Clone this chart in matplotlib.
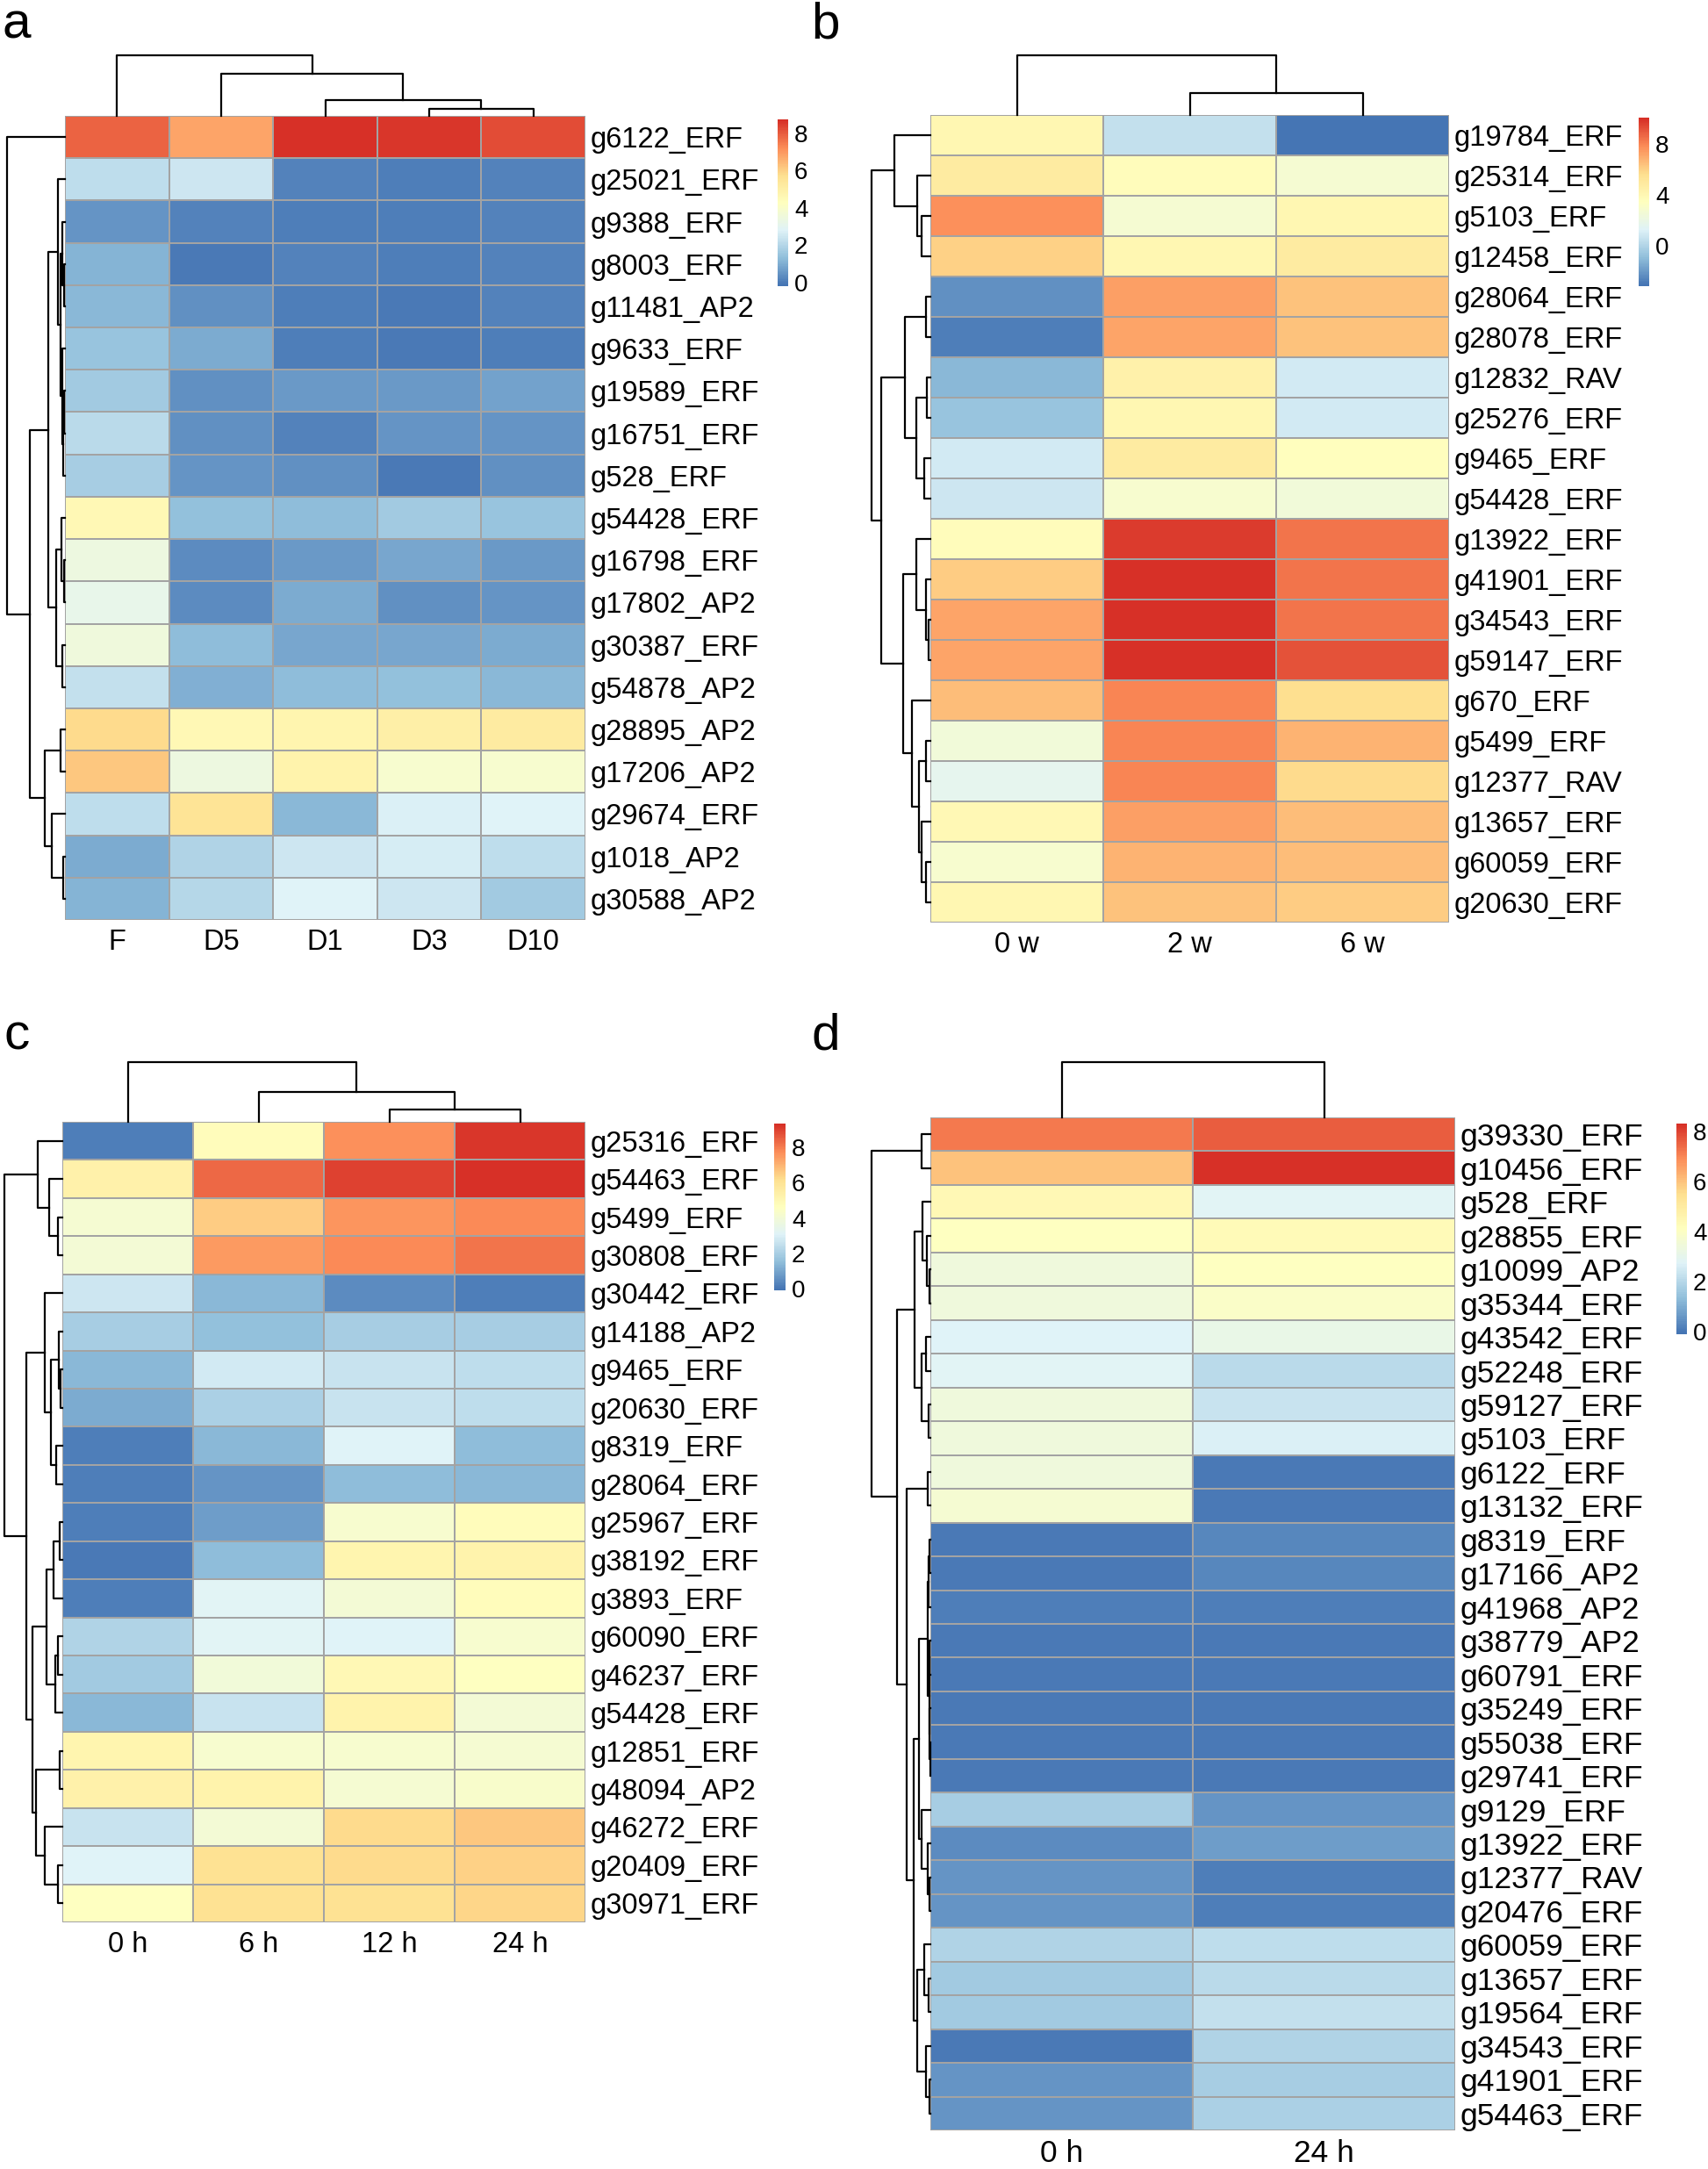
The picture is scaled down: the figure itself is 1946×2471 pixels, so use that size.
import numpy as np
import matplotlib
matplotlib.use('Agg')
import matplotlib.pyplot as plt
from matplotlib.colors import LinearSegmentedColormap

plt.rcParams['font.family'] = ['Liberation Sans', 'DejaVu Sans']

# ---------------- data ----------------
palette = ["#4575B4", "#91BFDB", "#E0F3F8", "#FFFFBF", "#FEE090", "#FC8D59", "#D73027"]

a_genes = ["g6122_ERF", "g25021_ERF", "g9388_ERF", "g8003_ERF", "g11481_AP2", "g9633_ERF",
           "g19589_ERF", "g16751_ERF", "g528_ERF", "g54428_ERF", "g16798_ERF", "g17802_AP2",
           "g30387_ERF", "g54878_AP2", "g28895_AP2", "g17206_AP2", "g29674_ERF", "g1018_AP2",
           "g30588_AP2"]
a_cols = ["F", "D5", "D1", "D3", "D10"]
a_values = [
    [7.9, 6.8, 8.7, 8.6, 8.3],
    [2.2, 2.4, 0.1, 0.0, 0.1],
    [0.5, 0.1, 0.0, 0.0, 0.1],
    [1.1, -0.1, 0.1, 0.0, 0.1],
    [1.2, 0.4, 0.0, -0.1, 0.1],
    [1.5, 0.9, 0.0, -0.1, 0.0],
    [1.6, 0.4, 0.6, 0.6, 0.7],
    [2.1, 0.4, 0.1, 0.5, 0.5],
    [1.7, 0.5, 0.4, -0.1, 0.4],
    [4.6, 1.4, 1.3, 1.6, 1.5],
    [3.4, 0.3, 0.6, 0.8, 0.6],
    [3.2, 0.3, 0.9, 0.4, 0.5],
    [3.5, 1.3, 0.8, 0.8, 0.9],
    [2.3, 1.0, 1.3, 1.4, 1.2],
    [5.8, 4.6, 4.8, 5.0, 5.2],
    [6.2, 3.4, 4.9, 3.9, 3.9],
    [2.2, 5.6, 1.2, 2.7, 2.8],
    [0.9, 1.9, 2.4, 2.6, 2.2],
    [1.1, 2.0, 2.8, 2.4, 1.6],
]
a_range = (-0.2, 8.75)
a_ticks = [0, 2, 4, 6, 8]
# trees: (height, left, right); leaves are display indices
a_row_tree = (1.0, 0,
              (0.6,
               (0.285,
                (0.125, 1, (0.075, (0.04, 2, (0.02, 3, 4)),
                            (0.045, 5, (0.035, (0.02, 6, 7), 8)))),
                (0.15, (0.06, 9, (0.02, 10, 11)), (0.05, 12, 13))),
               (0.35, (0.075, 14, 15), (0.225, 16, (0.025, 17, 18)))))
a_col_tree = (1.0, 0, (0.70, 1, (0.26, 2, (0.11, 3, 4))))

b_genes = ["g19784_ERF", "g25314_ERF", "g5103_ERF", "g12458_ERF", "g28064_ERF", "g28078_ERF",
           "g12832_RAV", "g25276_ERF", "g9465_ERF", "g54428_ERF", "g13922_ERF", "g41901_ERF",
           "g34543_ERF", "g59147_ERF", "g670_ERF", "g5499_ERF", "g12377_RAV", "g13657_ERF",
           "g60059_ERF", "g20630_ERF"]
b_cols = ["0 w", "2 w", "6 w"]
b_values = [
    [4.1, 0.4, -3.2],
    [4.8, 3.7, 2.7],
    [7.8, 2.7, 4.1],
    [6.1, 4.0, 4.8],
    [-2.4, 7.4, 6.4],
    [-2.9, 7.3, 6.4],
    [-1.1, 4.4, 0.8],
    [-0.8, 4.1, 0.9],
    [0.9, 4.9, 3.5],
    [0.7, 2.8, 2.4],
    [3.6, 9.8, 8.5],
    [6.2, 10.0, 8.4],
    [7.2, 10.1, 8.4],
    [7.2, 10.1, 9.2],
    [6.6, 8.0, 5.6],
    [2.4, 8.1, 6.9],
    [1.6, 8.1, 5.8],
    [3.9, 7.4, 6.6],
    [2.9, 6.9, 6.6],
    [4.1, 6.5, 6.2],
]
b_range = (-3.2, 10.1)
b_ticks = [0, 4, 8]
b_row_tree = (1.0,
              (0.61, 0, (0.22, 1, (0.15, 2, 3))),
              (0.83,
               (0.44, (0.07, 4, 5), (0.24, (0.06, 6, 7), (0.1, 8, 9))),
               (0.46,
                (0.24, 10, (0.07, 11, (0.03, 12, 13))),
                (0.32, 14, (0.2, (0.07, 15, 16), (0.15, 17, (0.07, 18, 19)))))))
b_col_tree = (1.0, 0, (0.37, 1, 2))

c_genes = ["g25316_ERF", "g54463_ERF", "g5499_ERF", "g30808_ERF", "g30442_ERF", "g14188_AP2",
           "g9465_ERF", "g20630_ERF", "g8319_ERF", "g28064_ERF", "g25967_ERF", "g38192_ERF",
           "g3893_ERF", "g60090_ERF", "g46237_ERF", "g54428_ERF", "g12851_ERF", "g48094_AP2",
           "g46272_ERF", "g20409_ERF", "g30971_ERF"]
c_cols = ["0 h", "6 h", "12 h", "24 h"]
c_values = [
    [0.1, 4.8, 7.7, 9.2],
    [5.3, 8.4, 9.0, 9.35],
    [4.1, 6.6, 7.6, 7.8],
    [4.0, 7.5, 7.8, 8.2],
    [2.7, 1.4, 0.4, 0.1],
    [1.9, 1.6, 1.9, 1.9],
    [1.4, 2.8, 2.6, 2.4],
    [1.1, 2.0, 2.6, 2.4],
    [0.1, 1.4, 3.1, 1.5],
    [0.1, 0.6, 1.5, 1.4],
    [0.1, 0.8, 4.2, 4.8],
    [0.0, 1.5, 5.1, 5.2],
    [0.1, 3.2, 4.0, 4.8],
    [2.1, 3.2, 3.1, 4.2],
    [1.8, 3.9, 5.0, 4.6],
    [1.4, 2.6, 5.2, 4.0],
    [5.1, 4.2, 4.2, 4.1],
    [5.3, 5.2, 4.1, 4.3],
    [2.6, 4.0, 6.3, 6.7],
    [3.1, 6.1, 6.3, 6.5],
    [4.6, 6.1, 6.1, 6.4],
]
c_range = (-0.1, 9.35)
c_ticks = [0, 2, 4, 6, 8]
c_row_tree = (1.0,
              (0.43, 0, (0.22, 1, (0.07, 2, 3))),
              (0.62,
               (0.3, 4, (0.2, (0.06, 5, (0.03, 6, 7)), (0.1, 8, 9))),
               (0.52,
                (0.27, (0.15, (0.05, 10, 11), 12), (0.125, (0.075, 13, 14), 15)),
                (0.46, (0.05, 16, 17), (0.3, 18, (0.07, 19, 20))))))
c_col_tree = (1.0, 0, (0.5, 1, (0.21, 2, 3)))

d_genes = ["g39330_ERF", "g10456_ERF", "g528_ERF", "g28855_ERF", "g10099_AP2", "g35344_ERF",
           "g43542_ERF", "g52248_ERF", "g59127_ERF", "g5103_ERF", "g6122_ERF", "g13132_ERF",
           "g8319_ERF", "g17166_AP2", "g41968_AP2", "g38779_AP2", "g60791_ERF", "g35249_ERF",
           "g55038_ERF", "g29741_ERF", "g9129_ERF", "g13922_ERF", "g12377_RAV", "g20476_ERF",
           "g60059_ERF", "g13657_ERF", "g19564_ERF", "g34543_ERF", "g41901_ERF", "g54463_ERF"]
d_cols = ["0 h", "24 h"]
d_values = [
    [7.2, 7.6], [6.0, 8.3], [4.4, 2.8], [4.1, 4.3], [3.4, 4.1], [3.4, 3.9],
    [2.7, 3.1], [2.8, 2.0], [3.4, 2.3], [3.4, 2.6], [3.4, 0.0], [3.6, 0.0],
    [0.0, 0.3], [0.0, 0.3], [0.1, 0.15], [0.0, 0.0], [0.0, 0.0], [0.0, 0.05],
    [0.0, 0.0], [0.0, 0.0], [1.7, 0.5], [0.4, 0.7], [0.5, 0.1], [0.5, 0.1],
    [1.9, 2.1], [1.6, 2.0], [1.6, 2.2], [0.0, 1.9], [0.5, 1.7], [0.5, 1.8],
]
d_range = (-0.1, 8.3)
d_ticks = [0, 2, 4, 6, 8]
d_row_tree = (1.0,
              (0.15, 0, 1),
              (0.56,
               (0.27, (0.13, 2, (0.06, 3, (0.02, 4, 5))), (0.15, (0.07, 6, 7), (0.03, 8, 9))),
               (0.41, (0.04, 10, 11),
                (0.29,
                 (0.2,
                  (0.05, (0.03, (0.02, 12, 13), 14), (0.02, (0.01, 15, 16), (0.01, 17, (0.005, 18, 19)))),
                  (0.15, 20, (0.04, 21, (0.01, 22, 23)))),
                 (0.22, (0.1, 24, (0.03, 25, 26)), (0.07, 27, (0.02, 28, 29)))))))
d_col_tree = (1.0, 0, 1)

# ---------------- drawing ----------------
W, H = 1946, 2471
fig = plt.figure(figsize=(W / 100, H / 100), dpi=100)
cmap = LinearSegmentedColormap.from_list('pheatmap', palette, N=100)
LINE_W = 1.6
GRID = '#A3A3A3'


def px_axes(x0, y0, x1, y1):
    return fig.add_axes([x0 / W, 1 - y1 / H, (x1 - x0) / W, (y1 - y0) / H])


def draw_tree(ax, node, orient):
    if isinstance(node, int):
        return node + 0.5, 0.0
    h, left, right = node
    pl, hl = draw_tree(ax, left, orient)
    pr, hr = draw_tree(ax, right, orient)
    pos = [pl, pl, pr, pr]
    hts = [hl, h, h, hr]
    if orient == 'top':
        ax.plot(pos, hts, color='black', lw=LINE_W, solid_capstyle='projecting', clip_on=False)
    else:
        ax.plot(hts, pos, color='black', lw=LINE_W, solid_capstyle='projecting', clip_on=False)
    return (pl + pr) / 2, h


def panel(letter, letter_xy, genes, cols, values, vrange, ticks, row_tree, col_tree,
          heat_box, dendro_left_x, dendro_top_y, cbar_box, fs):
    x0, y0, x1, y1 = heat_box
    vals = np.array(values, dtype=float)
    n, m = vals.shape

    ax = px_axes(x0, y0, x1, y1)
    ax.pcolormesh(vals, cmap=cmap, vmin=vrange[0], vmax=vrange[1],
                  edgecolors=GRID, linewidth=1.3)
    ax.set_xlim(0, m)
    ax.set_ylim(n, 0)
    for s in ax.spines.values():
        s.set_visible(False)
    ax.set_yticks(np.arange(n) + 0.5)
    ax.set_yticklabels(genes, fontsize=fs)
    ax.yaxis.set_ticks_position('right')
    ax.set_xticks(np.arange(m) + 0.5)
    ax.set_xticklabels(cols, fontsize=fs)
    ax.tick_params(axis='y', length=0, pad=4)
    ax.tick_params(axis='x', length=0, pad=7)

    # row dendrogram
    axl = px_axes(dendro_left_x, y0, x0, y1)
    draw_tree(axl, row_tree, 'left')
    axl.set_xlim(row_tree[0], 0)
    axl.set_ylim(n, 0)
    axl.axis('off')

    # column dendrogram
    axt = px_axes(x0, dendro_top_y, x1, y0)
    draw_tree(axt, col_tree, 'top')
    axt.set_xlim(0, m)
    axt.set_ylim(0, col_tree[0])
    axt.axis('off')

    # colour legend
    cx0, cy0, cx1, cy1 = cbar_box
    axc = px_axes(cx0, cy0, cx1, cy1)
    grad = np.linspace(vrange[0], vrange[1], 256)[:, None]
    axc.imshow(grad, aspect='auto', cmap=cmap, vmin=vrange[0], vmax=vrange[1],
               origin='lower', extent=[0, 1, vrange[0], vrange[1]])
    axc.set_xticks([])
    axc.yaxis.set_ticks_position('right')
    axc.set_yticks(ticks)
    axc.set_yticklabels([str(t) for t in ticks], fontsize=20)
    axc.tick_params(axis='y', length=0, pad=5)
    for s in axc.spines.values():
        s.set_visible(False)

    fig.text(letter_xy[0] / W, 1 - letter_xy[1] / H, letter, fontsize=42,
             ha='center', va='center')


panel('a', (19, 29), a_genes, a_cols, a_values, a_range, a_ticks, a_row_tree, a_col_tree,
      (74, 132, 667, 1048), 8, 63, (886, 136, 898, 326), 23.5)
panel('b', (941, 29), b_genes, b_cols, b_values, b_range, b_ticks, b_row_tree, b_col_tree,
      (1060, 131, 1651, 1051), 993, 63, (1867, 134, 1879, 326), 23.5)
panel('c', (19, 1180), c_genes, c_cols, c_values, c_range, c_ticks, c_row_tree, c_col_tree,
      (71, 1278, 667, 2190), 5, 1210, (882, 1280, 895, 1470), 23.5)
panel('d', (941, 1180), d_genes, d_cols, d_values, d_range, d_ticks, d_row_tree, d_col_tree,
      (1060, 1273, 1658, 2427), 993, 1210, (1910, 1280, 1922, 1520), 25.5)

fig.savefig('out.png', dpi=100, facecolor='white')
